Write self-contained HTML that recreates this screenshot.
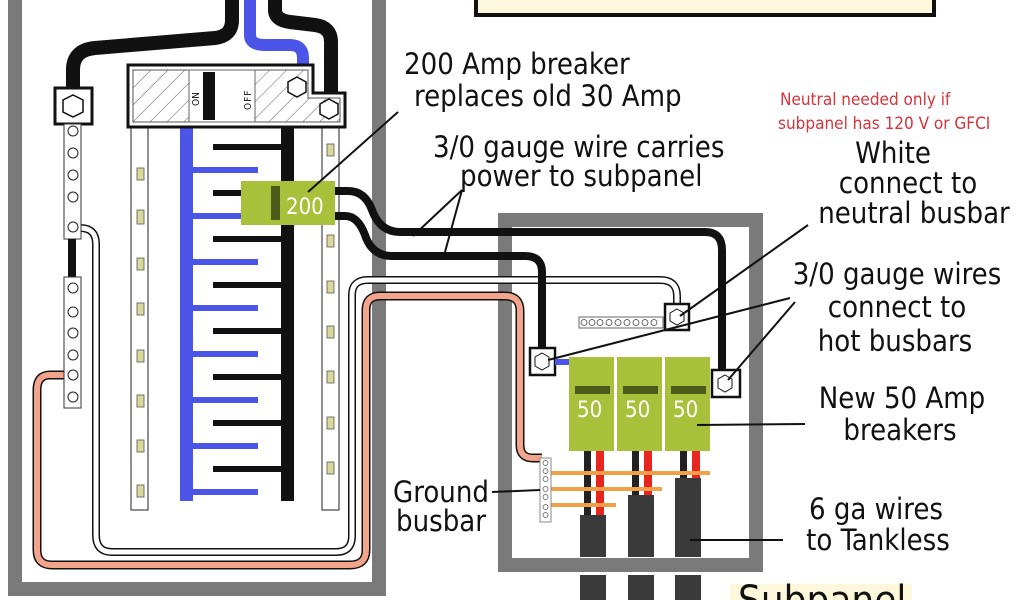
<!DOCTYPE html>
<html><head><meta charset="utf-8"><style>html,body{margin:0;padding:0;background:#fff}svg{display:block}text{font-family:"DejaVu Sans Condensed","DejaVu Sans",sans-serif;fill:#111}</style></head><body>
<svg width="1024" height="600" viewBox="0 0 1024 600" xmlns="http://www.w3.org/2000/svg">
<defs>
<pattern id="h" width="12" height="12" patternUnits="userSpaceOnUse" patternTransform="rotate(45)"><line x1="0" y1="0" x2="0" y2="12" stroke="#333" stroke-width="0.8"/></pattern>
</defs>
<rect x="476" y="-10" width="458" height="25" fill="#fdf8dc" stroke="#111" stroke-width="4"/>
<rect x="15" y="-10" width="364" height="599" fill="none" stroke="#7a7a7a" stroke-width="14"/>
<rect x="505" y="220" width="251" height="345" fill="none" stroke="#7a7a7a" stroke-width="14"/>
<path d="M64 375 H50 Q37 375 37 390 V550 Q37 565 52 565 H350 Q366 565 366 550 V310 Q366 296 380 296 H505 Q520 296 520 311 V445 Q520 458 533 458 H542" fill="none" stroke="#111" stroke-width="9"/>
<path d="M64 375 H50 Q37 375 37 390 V550 Q37 565 52 565 H350 Q366 565 366 550 V310 Q366 296 380 296 H505 Q520 296 520 311 V445 Q520 458 533 458 H542" fill="none" stroke="#f2a58c" stroke-width="6"/>
<path d="M80 228 Q96 228 96 244 V535 Q96 552 112 552 H336 Q352 552 352 536 V295 Q352 280 368 280 H660 Q677 280 677 296 V318" fill="none" stroke="#111" stroke-width="8"/>
<path d="M80 228 Q96 228 96 244 V535 Q96 552 112 552 H336 Q352 552 352 536 V295 Q352 280 368 280 H660 Q677 280 677 296 V318" fill="none" stroke="#fff" stroke-width="5"/>
<path d="M73 92 V70 Q73 50 95 48 L215 38 Q232 36 232 20 V-5" fill="none" stroke="#111" stroke-width="14"/>
<path d="M250 -5 V35 Q250 45 265 45 H290 Q303 45 303 58 V68" fill="none" stroke="#4b55e8" stroke-width="12"/>
<path d="M275 -5 V10 Q275 20 290 22 L315 25 Q331 27 331 42 V95" fill="none" stroke="#111" stroke-width="14"/>
<rect x="55" y="88" width="37" height="36" fill="#fff" stroke="#111" stroke-width="3"/>
<polygon points="73,95 83,100 83,112 73,117 63,112 63,100" fill="none" stroke="#111" stroke-width="1.5"/>
<rect x="64" y="124" width="17" height="115" fill="#fff" stroke="#333"/>
<rect x="68" y="239" width="8" height="38" fill="#111"/>
<rect x="64" y="277" width="17" height="131" fill="#fff" stroke="#333"/>
<g fill="none" stroke="#222" stroke-width="1">
<circle cx="73" cy="131" r="5"/><circle cx="73" cy="153" r="5"/><circle cx="73" cy="175" r="5"/><circle cx="73" cy="197" r="5"/><circle cx="73" cy="227" r="5"/>
<circle cx="73" cy="288" r="5"/><circle cx="73" cy="312" r="5"/><circle cx="73" cy="333" r="5"/><circle cx="73" cy="355" r="5"/><circle cx="73" cy="375" r="5"/><circle cx="73" cy="397" r="5"/>
</g>
<rect x="131" y="127" width="17" height="383" fill="#fff" stroke="#222"/>
<rect x="322" y="127" width="17" height="383" fill="#fff" stroke="#222"/>
<g fill="#d8d89a" stroke="#555" stroke-width="0.8">
<rect x="137" y="168" width="7" height="12"/><rect x="137" y="210" width="7" height="14"/><rect x="137" y="258" width="7" height="12"/><rect x="137" y="303" width="7" height="12"/><rect x="137" y="350" width="7" height="12"/><rect x="137" y="395" width="7" height="12"/><rect x="137" y="440" width="7" height="12"/><rect x="137" y="485" width="7" height="12"/>
<rect x="327" y="144" width="7" height="12"/><rect x="327" y="235" width="7" height="12"/><rect x="327" y="281" width="7" height="12"/><rect x="327" y="326" width="7" height="12"/><rect x="327" y="371" width="7" height="12"/><rect x="327" y="417" width="7" height="12"/><rect x="327" y="462" width="7" height="12"/>
</g>
<rect x="180" y="127" width="13" height="374" fill="#4b55e8"/>
<rect x="281" y="127" width="13" height="374" fill="#111"/>
<g fill="#4b55e8"><rect x="193" y="167" width="65" height="6"/><rect x="193" y="213" width="65" height="6"/><rect x="193" y="259" width="65" height="6"/><rect x="193" y="305" width="65" height="6"/><rect x="193" y="351" width="65" height="6"/><rect x="193" y="397" width="65" height="6"/><rect x="193" y="443" width="65" height="6"/><rect x="193" y="489" width="65" height="6"/></g>
<g fill="#111"><rect x="213" y="144" width="68" height="6"/><rect x="213" y="190" width="68" height="6"/><rect x="213" y="236" width="68" height="6"/><rect x="213" y="282" width="68" height="6"/><rect x="213" y="328" width="68" height="6"/><rect x="213" y="374" width="68" height="6"/><rect x="213" y="420" width="68" height="6"/><rect x="213" y="466" width="68" height="6"/></g>
<path d="M128 65 H313 V93 H345 V127 H128 Z" fill="#fff" stroke="#111" stroke-width="3"/>
<path d="M133 70 H308 V98 H340 V122 H133 Z" fill="url(#h)" stroke="#555"/>
<rect x="189" y="70" width="66" height="52" fill="#fff" stroke="#666"/>
<rect x="203" y="72" width="12" height="48" fill="#111"/>
<text x="0" y="0" font-size="10" transform="translate(199,106) rotate(-90)">ON</text>
<text x="0" y="0" font-size="10" transform="translate(251,110) rotate(-90)" letter-spacing="1">OFF</text>
<polygon points="297,77 306,82 306,92 297,97 288,92 288,82" fill="#fff" stroke="#111" stroke-width="1.5"/>
<polygon points="329,99 338,104 338,114 329,119 320,114 320,104" fill="#fff" stroke="#111" stroke-width="1.5"/>
<path d="M335 191 H348 Q365 191 372 210 Q380 232 400 232 H705 Q722 232 722 250 V378" fill="none" stroke="#111" stroke-width="8"/>
<path d="M335 216 H345 Q358 216 365 235 Q372 256 392 256 H525 Q542 256 542 272 V352" fill="none" stroke="#111" stroke-width="8"/>
<rect x="241" y="181" width="94" height="44" fill="#a8c03a"/>
<rect x="271" y="186" width="9" height="34" fill="#4d5a1a"/>
<text x="286" y="214" font-size="22" style="fill:#fff">200</text>
<rect x="665" y="304" width="24" height="26" fill="#fff" stroke="#111" stroke-width="2.5"/>
<polygon points="677,309 684,313 684,321 677,325 670,321 670,313" fill="none" stroke="#111"/>
<rect x="579" y="317" width="84" height="11" fill="#fff" stroke="#666"/>
<g fill="none" stroke="#444" stroke-width="0.8"><circle cx="584" cy="322.5" r="3"/><circle cx="592" cy="322.5" r="3"/><circle cx="600" cy="322.5" r="3"/><circle cx="609" cy="322.5" r="3"/><circle cx="618" cy="322.5" r="3"/><circle cx="627" cy="322.5" r="3"/><circle cx="636" cy="322.5" r="3"/><circle cx="645" cy="322.5" r="3"/><circle cx="654" cy="322.5" r="3"/></g>
<rect x="530" y="348" width="25" height="27" fill="#fff" stroke="#111" stroke-width="2.5"/>
<polygon points="542,353 549,357 549,366 542,370 535,366 535,357" fill="none" stroke="#111"/>
<rect x="555" y="359" width="15" height="6" fill="#4b55e8"/>
<rect x="712" y="370" width="28" height="27" fill="#fff" stroke="#111" stroke-width="2.5"/>
<polygon points="725,375 732,379 732,388 725,392 718,388 718,379" fill="none" stroke="#111"/>
<g fill="#a8c03a"><rect x="569" y="357" width="45" height="94"/><rect x="617" y="357" width="45" height="94"/><rect x="665" y="357" width="45" height="94"/></g>
<g fill="#4d5a1a"><rect x="575" y="386" width="35" height="8"/><rect x="623" y="386" width="35" height="8"/><rect x="671" y="386" width="35" height="8"/></g>
<text x="577" y="417" font-size="22" style="fill:#fff">50</text><text x="625" y="417" font-size="22" style="fill:#fff">50</text><text x="673" y="417" font-size="22" style="fill:#fff">50</text>
<g><rect x="584" y="451" width="7" height="65" fill="#222"/><rect x="596" y="451" width="8" height="65" fill="#e8261f"/>
<rect x="632" y="451" width="7" height="45" fill="#222"/><rect x="644" y="451" width="8" height="45" fill="#e8261f"/>
<rect x="680" y="451" width="7" height="30" fill="#222"/><rect x="692" y="451" width="8" height="30" fill="#e8261f"/></g>
<g fill="#f0a048"><rect x="550" y="471" width="160" height="4"/><rect x="550" y="487" width="112" height="4"/><rect x="550" y="503" width="66" height="4"/></g>
<rect x="540" y="458" width="11" height="64" fill="#fff" stroke="#888"/>
<g fill="none" stroke="#555" stroke-width="0.7"><circle cx="545.5" cy="463" r="2.5"/><circle cx="545.5" cy="471" r="2.5"/><circle cx="545.5" cy="479" r="2.5"/><circle cx="545.5" cy="489" r="2.5"/><circle cx="545.5" cy="497" r="2.5"/><circle cx="545.5" cy="507" r="2.5"/><circle cx="545.5" cy="515" r="2.5"/></g>
<g fill="#3a3a3a"><rect x="580" y="515" width="26" height="42"/><rect x="628" y="495" width="26" height="62"/><rect x="675" y="478" width="26" height="79"/>
<rect x="580" y="575" width="26" height="30"/><rect x="628" y="575" width="26" height="30"/><rect x="675" y="575" width="26" height="30"/></g>
<g stroke="#111" stroke-width="2" fill="none">
<line x1="308" y1="192" x2="398" y2="112"/>
<line x1="462" y1="190" x2="413" y2="236"/><line x1="462" y1="190" x2="445" y2="252"/>
<line x1="680" y1="316" x2="808" y2="225"/>
<line x1="548" y1="360" x2="790" y2="298"/><line x1="728" y1="380" x2="795" y2="302"/>
<line x1="697" y1="425" x2="805" y2="424"/>
<line x1="492" y1="492" x2="540" y2="490"/>
<line x1="690" y1="540" x2="783" y2="540"/>
</g>
<g font-size="29">
<text x="404" y="74">200 Amp breaker</text>
<text x="414" y="106">replaces old 30 Amp</text>
<text x="433" y="157">3/0 gauge wire carries</text>
<text x="460" y="186">power to subpanel</text>
<text x="893" y="163" text-anchor="middle">White</text>
<text x="908" y="193" text-anchor="middle">connect to</text>
<text x="914" y="223" text-anchor="middle">neutral busbar</text>
<text x="897" y="284" text-anchor="middle">3/0 gauge wires</text>
<text x="897" y="317" text-anchor="middle">connect to</text>
<text x="895" y="351" text-anchor="middle">hot busbars</text>
<text x="902" y="408" text-anchor="middle">New 50 Amp</text>
<text x="900" y="440" text-anchor="middle">breakers</text>
<text x="441" y="502" text-anchor="middle">Ground</text>
<text x="441" y="531" text-anchor="middle">busbar</text>
<text x="876" y="519" text-anchor="middle">6 ga wires</text>
<text x="878" y="550" text-anchor="middle">to Tankless</text>
</g>
<text x="780" y="105" font-size="17" style="fill:#d8323a">Neutral needed only if</text>
<text x="778" y="129" font-size="17" style="fill:#d8323a">subpanel has 120 V or GFCI</text>
<rect x="730" y="584" width="182" height="20" fill="#fdf8dc"/>
<text x="738" y="614" font-size="40">Subpanel</text>
</svg>
</body></html>
